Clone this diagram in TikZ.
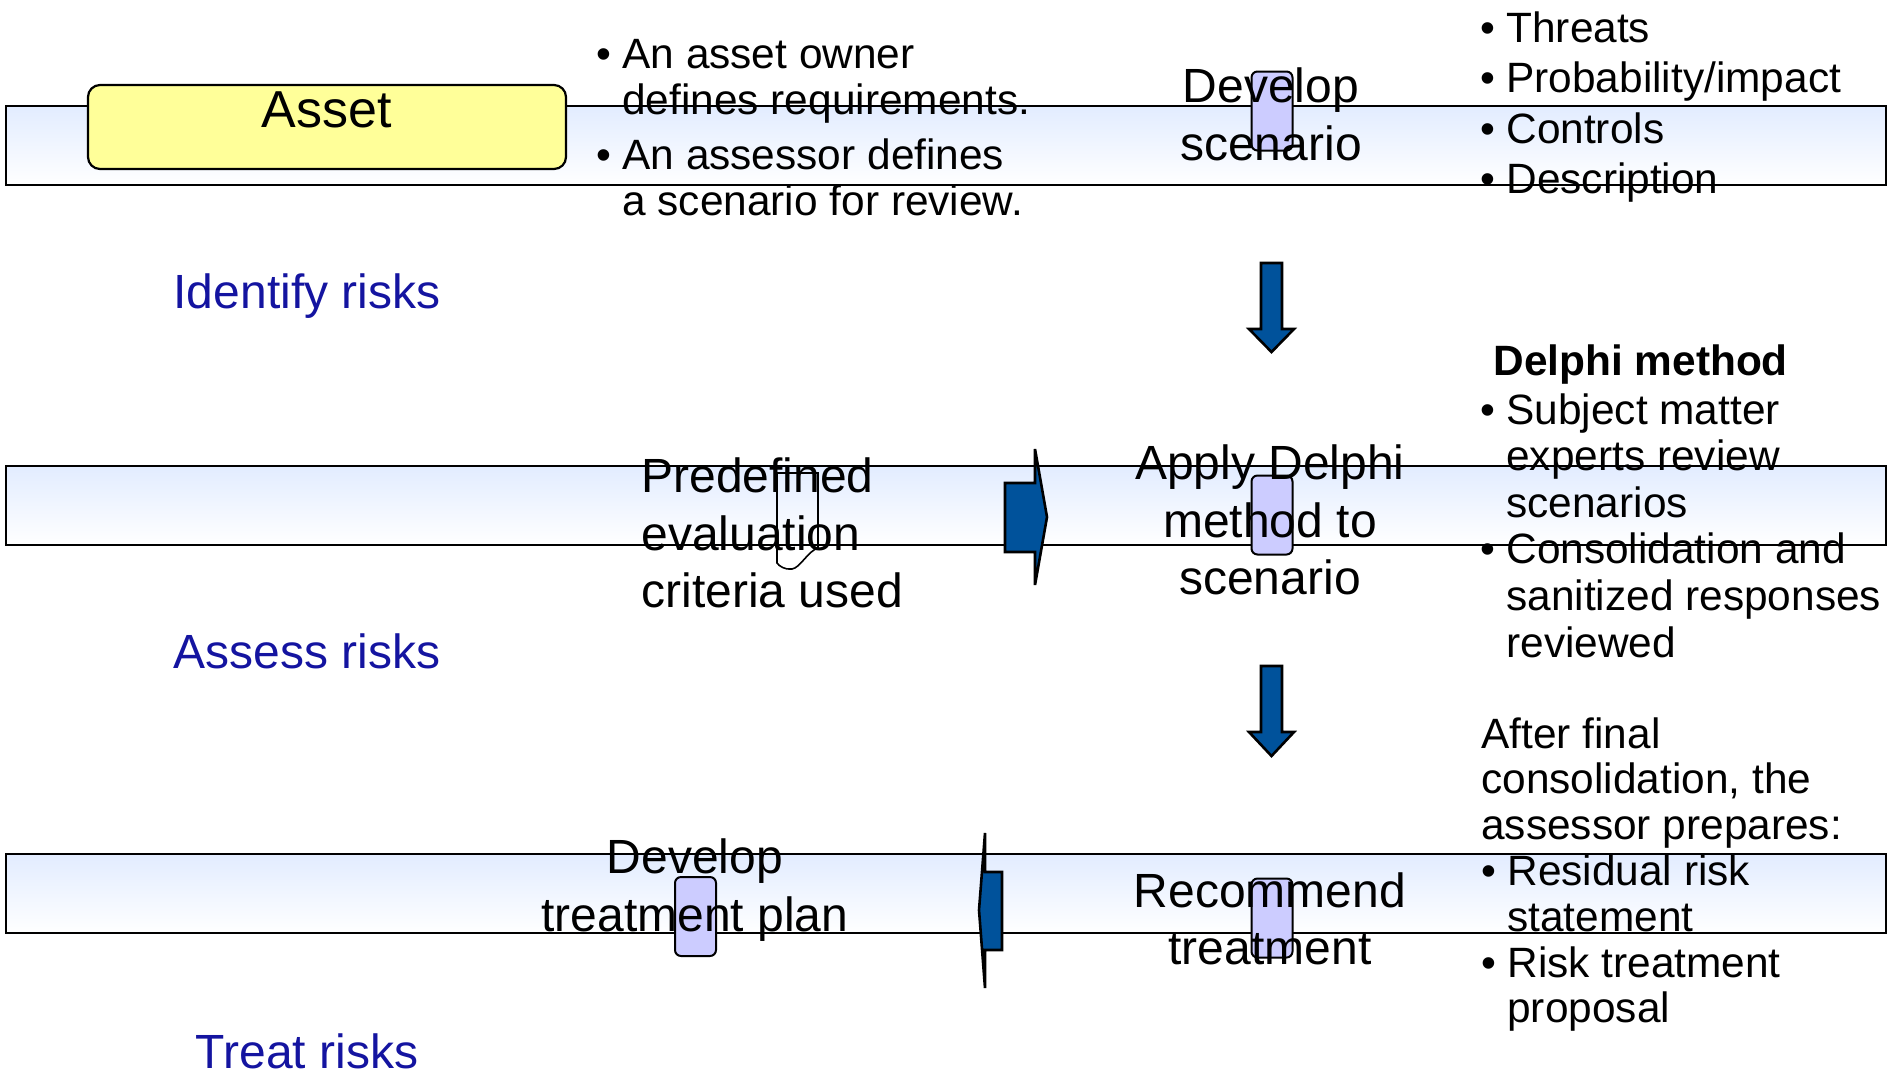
\documentclass[tikz,border=0pt]{standalone}
\usepackage{fontspec}
\setmainfont{Liberation Sans}
\usetikzlibrary{positioning}
\definecolor{bandTop}{RGB}{226,236,255}
\definecolor{assetFill}{RGB}{255,255,153}
\definecolor{markFill}{RGB}{204,204,255}
\definecolor{flowBlue}{RGB}{0,82,155}
\definecolor{phaseBlue}{RGB}{20,20,160}
\newcommand{\bul}{\makebox[13pt][l]{\textbullet}}
\newcommand{\ind}{\hspace*{13pt}}
\tikzset{
    every node/.append style={inner sep=0pt},
    band/.style={rectangle,draw=black,line width=1.1pt,top color=bandTop,bottom color=white,
        minimum width=940pt,minimum height=39.5pt},
    assetbox/.style={rectangle,draw=black,line width=1.1pt,fill=assetFill,rounded corners=6pt,
        minimum width=239pt,minimum height=42pt,font=\fontsize{26}{31}\selectfont,
        text height=18pt,text depth=18pt},
    marker/.style={rectangle,draw=black,line width=1pt,fill=markFill,rounded corners=3pt,
        minimum width=20.5pt,minimum height=39.5pt},
    bigtxt/.style={align=center,anchor=north,font=\fontsize{24}{28.8}\selectfont},
    listtxt/.style={align=left,anchor=north west,font=\fontsize{21.2}{23.3}\selectfont},
    phase/.style={anchor=base,text=phaseBlue,font=\fontsize{24}{28}\selectfont},
    blockarr/.style={draw=black,line width=1.3pt,fill=flowBlue,line join=miter},
    docshape/.style={draw=black,line width=0.8pt}
}
\begin{document}
\begin{tikzpicture}[x=0.5pt,y=-0.5pt]
    \useasboundingbox (0,0) rectangle (1888,1073);

    \foreach \i/\y in {1/145.5,2/505.5,3/893.5} { \node[band] (band\i) at (946,\y) {}; }

    \node[assetbox] (asset) at (327,127) {Asset};

    \foreach \i/\x/\y in {1/1272/111,2/1272/515,3/1272/918,4/695.5/916.5} { \node[marker] (mk\i) at (\x,\y) {}; }

    \foreach \t/\b/\p in {263/329/352,666/732/756} {
        \draw[blockarr] (1261,\t) -- (1282,\t) -- (1282,\b) -- (1294,\b) -- (1271.5,\p) -- (1249,\b) -- (1261,\b) -- cycle;
    }
    \draw[blockarr] (1005,483) -- (1035,483) -- (1035,449) -- (1047,517) -- (1035,585) -- (1035,552) -- (1005,552) -- cycle;
    \draw[blockarr] (1002,872) -- (985,872) -- (985,833) -- (979,910) -- (985,988) -- (985,950) -- (1002,950) -- cycle;

    \draw[docshape] (777,473) -- (818,473) -- (818,548) .. controls (808,551) and (800,568) .. (792,569)
        .. controls (785,570) and (779,566) .. (777,563) -- cycle;

    \node[phase] (identify) at (307,308) {Identify risks};
    \node[phase] (assess)   at (307,668) {Assess risks};
    \node[phase] (treat)    at (307,1068) {Treat risks};

    \node[listtxt,font=\fontsize{21.2}{22.8}\selectfont] (ownerlist) at (596,39)
        {\bul An asset owner\\\ind defines requirements.\\[5pt]\bul An assessor defines\\\ind a scenario for review.};

    \node[bigtxt] (devscen)     at (1271,67.5)  {Develop\\scenario};
    \node[bigtxt] (applydelphi) at (1270,444.5) {Apply Delphi\\method to\\scenario};
    \node[bigtxt,align=left,anchor=north west] (predef) at (641,457.5) {Predefined\\evaluation\\criteria used};
    \node[bigtxt] (recommend)   at (1270,872)   {Recommend\\treatment};
    \node[bigtxt] (devplan)     at (695,838.5)  {Develop\\treatment plan};

    \node[listtxt,font=\fontsize{21.2}{25.3}\selectfont] (threatlist) at (1480,11)
        {\bul Threats\\\bul Probability/impact\\\bul Controls\\\bul Description};
    \node[anchor=base west,font=\fontsize{21.2}{23.3}\selectfont\bfseries] (delphihead) at (1493,375) {Delphi method};
    \node[listtxt] (delphilist) at (1480,393)
        {\bul Subject matter\\\ind experts review\\\ind scenarios\\\bul Consolidation and\\\ind sanitized responses\\\ind reviewed};
    \node[listtxt,font=\fontsize{21.2}{22.9}\selectfont] (afterlist) at (1481,717)
        {After final\\consolidation, the\\assessor prepares:\\\bul Residual risk\\\ind statement\\\bul Risk treatment\\\ind proposal};
\end{tikzpicture}
\end{document}
